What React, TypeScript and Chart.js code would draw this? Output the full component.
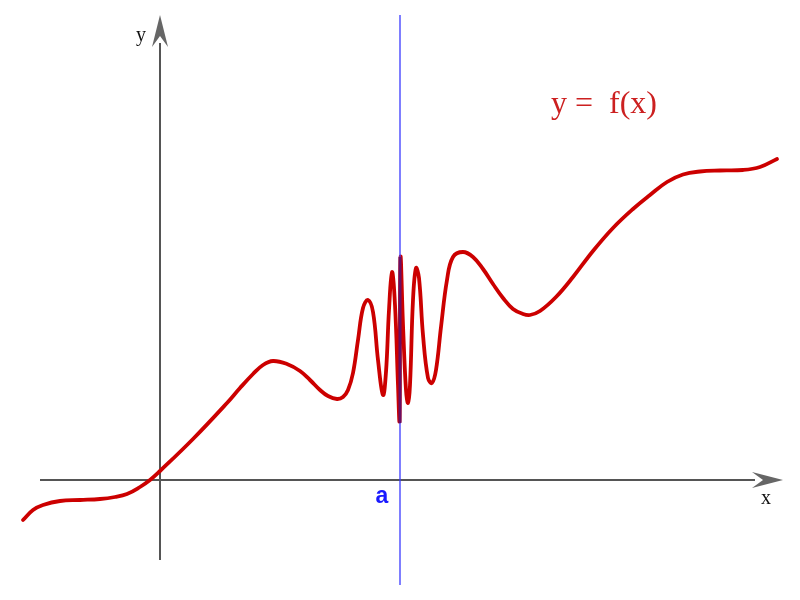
import React, { useEffect, useRef } from "react";
import { Chart, registerables } from "chart.js";

Chart.register(...registerables);

// Curve f(x) as [x, y] pairs, measured from the origin (1 unit = 1px at 800x600)
const curvePoints: [number, number][] = [
  [-137, -40], [-127, -30], [-117, -25], [-100, -21], [-80, -20], [-60, -19],
  [-45, -17], [-33, -14], [-20, -7], [-10, 0], [0, 9], [33, 41], [67, 77],
  [80, 92], [93, 106], [103, 115], [113, 119], [127, 116],
  [140, 109], [150, 100], [160, 90], [168, 84], [177, 81], [183, 83], [188, 90],
  [193, 107], [198, 140], [203, 172], [208, 180], [213, 168], [218, 120],
  [223, 85], [226, 108], [229, 170], [232, 208], [235, 175], [238, 95],
  [239.5, 60], [240.5, 222], [243, 155], [246, 90], [248, 77], [250, 95],
  [253, 180], [256, 212], [259, 202], [263, 145], [268, 102], [272, 97],
  [276, 110], [281, 153], [287, 200], [293, 223], [303, 228], [313, 223],
  [323, 211], [333, 196], [343, 182], [353, 171], [363, 166], [370, 165],
  [380, 169], [396, 183], [413, 203], [433, 229], [453, 252], [473, 271],
  [490, 285], [507, 298], [523, 305.5], [540, 308.5], [560, 309.5], [583, 310],
  [600, 313], [617, 321],
];

// Vertical line x = a and the dense oscillation band at x = a
const aValue = 240;
const aLineY = [-105, 465];
const bandY = [57, 223];

// Axis extents
const xAxisRange = [-120, 623];
const yAxisRange = [-80, 465];

const labels = { x: "x", y: "y", a: "a", fn: "y =  f(x)" };

export default function App() {
  const ref = useRef<HTMLCanvasElement | null>(null);

  useEffect(() => {
    if (!ref.current) return;

    const axesPlugin = {
      id: "axesPlugin",
      beforeDatasetsDraw(chart: any) {
        const { ctx, scales } = chart;
        const xs = scales.x;
        const ys = scales.y;
        const ox = xs.getPixelForValue(0);
        const oy = ys.getPixelForValue(0);
        ctx.save();
        ctx.strokeStyle = "#555555";
        ctx.lineWidth = 2;
        ctx.beginPath();
        ctx.moveTo(xs.getPixelForValue(xAxisRange[0]), oy);
        ctx.lineTo(xs.getPixelForValue(xAxisRange[1]) - 28, oy);
        ctx.moveTo(ox, ys.getPixelForValue(yAxisRange[0]));
        ctx.lineTo(ox, ys.getPixelForValue(yAxisRange[1]) + 28);
        ctx.stroke();
        // arrowheads
        ctx.fillStyle = "#666666";
        const tx = xs.getPixelForValue(xAxisRange[1]);
        ctx.beginPath();
        ctx.moveTo(tx, oy);
        ctx.lineTo(tx - 31, oy - 8);
        ctx.lineTo(tx - 20, oy);
        ctx.lineTo(tx - 31, oy + 8);
        ctx.closePath();
        ctx.fill();
        const ty = ys.getPixelForValue(yAxisRange[1]);
        ctx.beginPath();
        ctx.moveTo(ox, ty);
        ctx.lineTo(ox - 8, ty + 32);
        ctx.lineTo(ox, ty + 21);
        ctx.lineTo(ox + 8, ty + 32);
        ctx.closePath();
        ctx.fill();
        ctx.restore();
      },
      afterDatasetsDraw(chart: any) {
        const { ctx, scales } = chart;
        const xs = scales.x;
        const ys = scales.y;
        const ox = xs.getPixelForValue(0);
        const oy = ys.getPixelForValue(0);
        ctx.save();
        ctx.fillStyle = "#111111";
        ctx.font = '20px "Liberation Serif"';
        ctx.textAlign = "center";
        ctx.textBaseline = "alphabetic";
        ctx.fillText(labels.y, ox - 19, ys.getPixelForValue(yAxisRange[1]) + 26);
        ctx.fillText(labels.x, xs.getPixelForValue(xAxisRange[1]) - 17, oy + 24);
        ctx.fillStyle = "#1a1aff";
        ctx.font = 'bold 23px "Liberation Sans"';
        ctx.fillText(labels.a, xs.getPixelForValue(aValue) - 18, oy + 23);
        ctx.fillStyle = "#cc2020";
        ctx.font = '32px "Liberation Serif"';
        ctx.fillText(labels.fn, 604, 113);
        ctx.restore();
      },
    };

    const chart = new Chart(ref.current, {
      type: "line",
      data: {
        datasets: [
          {
            data: bandY.map((y) => ({ x: aValue, y })),
            borderColor: "#6a0d62",
            borderWidth: 3,
            pointRadius: 0,
          },
          {
            data: aLineY.map((y) => ({ x: aValue, y })),
            borderColor: "#3a3aff",
            borderWidth: 1.3,
            pointRadius: 0,
          },
          {
            data: curvePoints.map(([x, y]) => ({ x, y })),
            borderColor: "#cc0000",
            borderWidth: 3.8,
            pointRadius: 0,
            tension: 0.4,
            borderCapStyle: "round",
            borderJoinStyle: "round",
          },
        ],
      },
      options: {
        animation: false,
        responsive: false,
        maintainAspectRatio: false,
        layout: { padding: 0 },
        plugins: { legend: { display: false }, tooltip: { enabled: false } },
        scales: {
          x: { type: "linear", min: -160, max: 640, display: false },
          y: { type: "linear", min: -120, max: 480, display: false },
        },
      },
      plugins: [axesPlugin],
    });
    return () => chart.destroy();
  }, []);

  return (
    <div style={{ position: "fixed", left: 0, top: 0, width: 800, height: 600, background: "#fff" }}>
      <canvas ref={ref} width={800} height={600} style={{ width: 800, height: 600, display: "block" }} />
    </div>
  );
}
